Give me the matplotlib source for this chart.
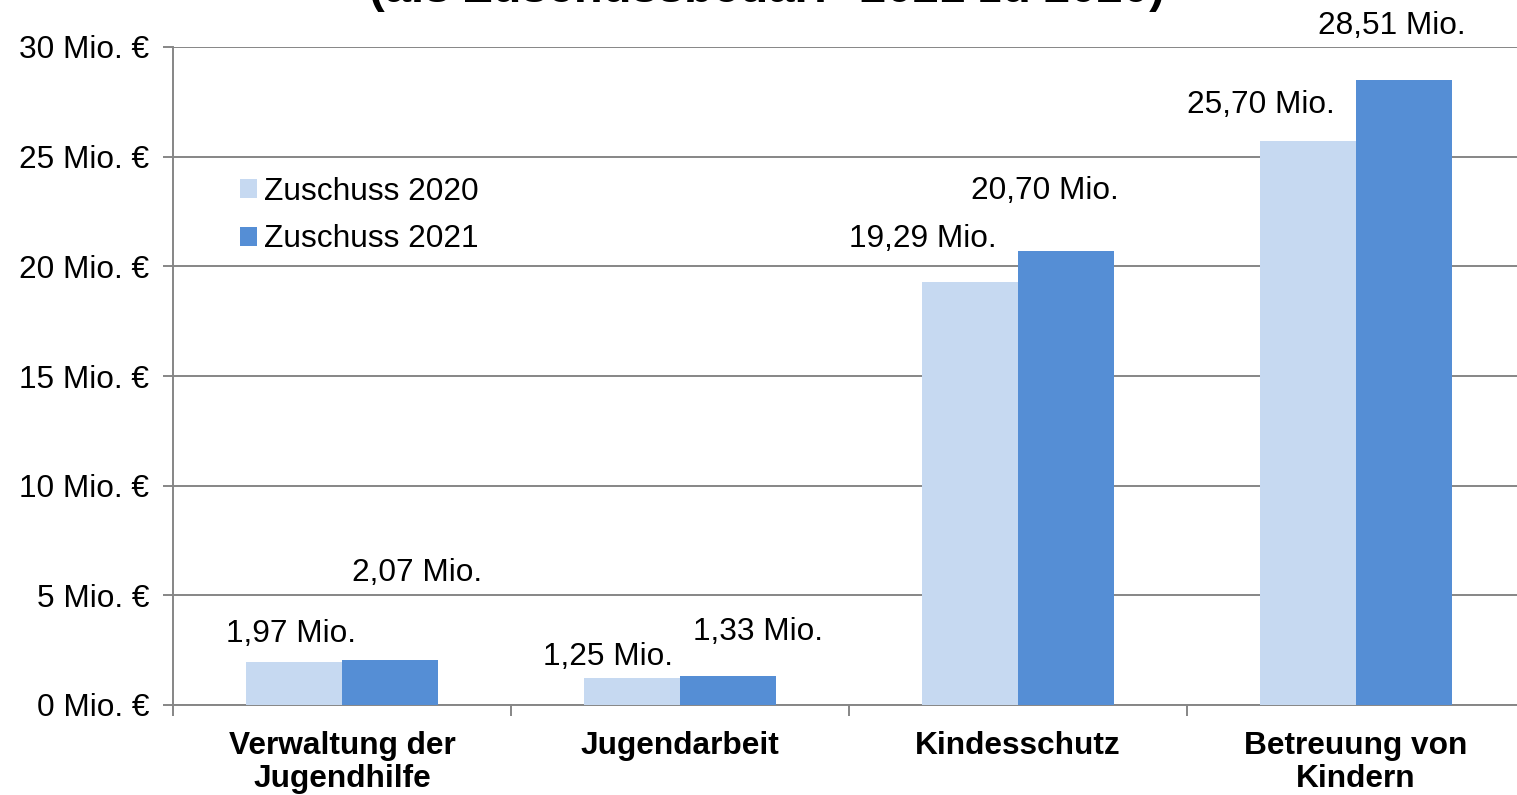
import numpy as np
import matplotlib.pyplot as plt

plt.rcParams['font.family'] = ['Liberation Sans', 'DejaVu Sans']

# data
categories = ['Verwaltung der\nJugendhilfe', 'Jugendarbeit', 'Kindesschutz', 'Betreuung von\nKindern']
zuschuss_2020 = [1.97, 1.25, 19.29, 25.70]
zuschuss_2021 = [2.07, 1.33, 20.70, 28.51]
series_names = ['Zuschuss 2020', 'Zuschuss 2021']
y_ticks = [0, 5, 10, 15, 20, 25, 30]

# label offsets (pixels from bar top centre), placed by hand like in the original
off_2020 = [(-3, 20), (-24, 13), (-47, 35), (-47, 28)]
off_2021 = [(27, 79), (30, 36), (-21, 52), (-12, 46)]

c2020 = '#C6D9F1'
c2021 = '#558ED5'
grid_col = '#868686'
fs = 22.8

fig = plt.figure(figsize=(15.17, 7.95), dpi=100)
ax = fig.add_axes([173 / 1517, 1 - 705 / 795, 1352 / 1517, 658 / 795])

x = np.arange(len(categories))
w = 0.285
b1 = ax.bar(x - w / 2, zuschuss_2020, w, color=c2020, label=series_names[0], zorder=3)
b2 = ax.bar(x + w / 2, zuschuss_2021, w, color=c2021, label=series_names[1], zorder=3)

def fmt(v):
    return f'{v:.2f}'.replace('.', ',') + ' Mio.'

for bars, vals, offs in [(b1, zuschuss_2020, off_2020), (b2, zuschuss_2021, off_2021)]:
    for r, v, (dx, dy) in zip(bars, vals, offs):
        ax.annotate(fmt(v), (r.get_x() + r.get_width() / 2, r.get_height()),
                    xytext=(dx, dy), textcoords='offset pixels',
                    ha='center', va='baseline', fontsize=fs)

ax.set_xlim(-0.5, len(categories) - 0.5)
ax.set_ylim(0, 30)
ax.set_yticks(y_ticks)
ax.set_yticklabels([f'{t} Mio. €' for t in y_ticks], fontsize=fs)
ax.yaxis.grid(True, color=grid_col, linewidth=1.4, zorder=0)

# tick marks at category boundaries, labels at centres
ax.set_xticks(np.arange(len(categories) + 1) - 0.5)
ax.set_xticklabels([])
ax.set_xticks(x, minor=True)
ax.set_xticklabels(categories, minor=True, fontsize=fs, fontweight='bold', linespacing=1.12)
ax.tick_params(axis='x', which='major', length=8, width=1.4, color=grid_col, direction='out')
ax.tick_params(axis='x', which='minor', length=0, pad=19)
ax.tick_params(axis='y', length=7, width=1.4, color=grid_col, pad=10)

for s in ['top', 'right']:
    ax.spines[s].set_visible(False)
ax.spines['left'].set_color(grid_col)
ax.spines['left'].set_linewidth(1.4)
ax.spines['bottom'].set_color(grid_col)
ax.spines['bottom'].set_linewidth(1.4)

ax.legend(loc='upper left', bbox_to_anchor=(240 / 1517, 1 - 177 / 795), bbox_transform=fig.transFigure,
          frameon=False, fontsize=fs, handlelength=0.55, handleheight=0.55,
          handletextpad=0.2, labelspacing=0.55, borderpad=0, borderaxespad=0)

# title is cut off at the top of the image, as in the original
fig.text(767 / 1517, 1 - 1.5 / 795, '(als Zuschussbedarf* 2021 zu 2020)',
         ha='center', va='baseline', fontsize=34, fontweight='bold')

fig.savefig('out.png', dpi=100)
